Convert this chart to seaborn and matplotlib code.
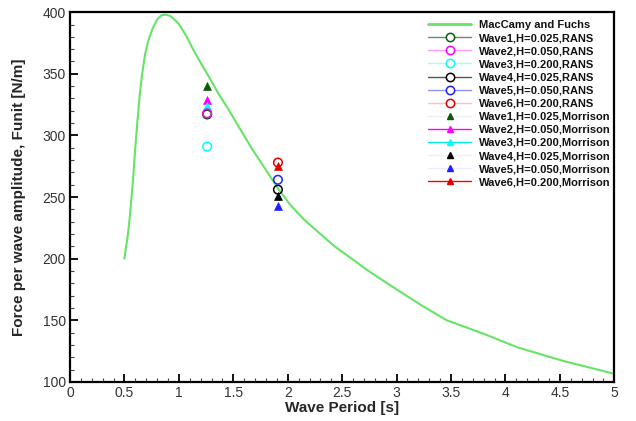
import matplotlib
matplotlib.use("Agg")
import matplotlib.pyplot as plt
from matplotlib.lines import Line2D
from matplotlib.ticker import MultipleLocator
import seaborn as sns

sns.set_theme(style="white")
plt.rcParams["font.family"] = ["Liberation Sans", "DejaVu Sans"]

# MacCamy and Fuchs analytical curve
theory_period = [0.5, 0.53, 0.55, 0.58, 0.6, 0.62, 0.64, 0.66, 0.69, 0.72, 0.76,
                 0.8, 0.84, 0.88, 0.92, 0.96, 1.0, 1.07, 1.13, 1.2, 1.28, 1.37,
                 1.45, 1.55, 1.68, 1.8, 1.91, 2.02, 2.14, 2.3, 2.43, 2.54, 2.75,
                 3.0, 3.23, 3.46, 3.8, 4.11, 4.53, 5.0]
theory_force = [200, 218, 234, 265, 290, 312, 332, 348, 366, 377, 387,
                394, 397.5, 398, 397, 394, 390.5, 380.5, 370, 359, 347, 333,
                322, 307, 288, 272, 257, 244, 232.5, 220, 210, 203, 189.5,
                175, 162, 150, 139, 128, 117, 106.5]

# Simulated cases
wave_names = ["Wave1,H=0.025", "Wave2,H=0.050", "Wave3,H=0.200",
              "Wave4,H=0.025", "Wave5,H=0.050", "Wave6,H=0.200"]
wave_period = [1.26, 1.26, 1.26, 1.91, 1.91, 1.91]
rans_force = [317, 318, 291, 256, 264, 278]
morrison_force = [340, 329, 324, 251, 243, 275]

# Style per wave: marker colour, RANS legend line colour, Morrison legend line colour
marker_colors = ["#0a5a0a", "#ff00ff", "#00ffff", "#000000", "#2020ff", "#e00000"]
rans_line_colors = ["#6a8a6a", "#ff9aff", "#a0ffff", "#555555", "#9090ff", "#ffc0c0"]
morr_line_colors = ["#eeeeee", "#ff00ff", "#00e8e8", "#f0f0f0", "#ececff", "#ff0000"]

fig, ax = plt.subplots(figsize=(6.36, 4.21), dpi=100)
fig.subplots_adjust(left=0.110, right=0.966, bottom=0.093, top=0.971)

green = "#66e466"
sns.lineplot(x=theory_period, y=theory_force, ax=ax, color=green, lw=1.5,
             sort=False, estimator=None)

for i in range(6):
    sns.scatterplot(x=[wave_period[i]], y=[morrison_force[i]], ax=ax,
                    marker="^", s=32, color=marker_colors[i],
                    edgecolor=marker_colors[i], linewidth=0.5, zorder=3)
    sns.scatterplot(x=[wave_period[i]], y=[rans_force[i]], ax=ax,
                    marker="o", s=38, facecolor="none",
                    edgecolor=marker_colors[i], linewidth=1.1, zorder=4)

ax.set_xlim(0, 5)
ax.set_ylim(100, 400)
ax.xaxis.set_minor_locator(MultipleLocator(0.1))
ax.yaxis.set_major_locator(MultipleLocator(50))
ax.yaxis.set_minor_locator(MultipleLocator(10))
ax.set_xticks([0, 0.5, 1, 1.5, 2, 2.5, 3, 3.5, 4, 4.5, 5])
ax.set_xticklabels(["0", "0.5", "1", "1.5", "2", "2.5", "3", "3.5", "4", "4.5", "5"])
ax.tick_params(which="major", direction="in", length=6, width=1.3,
               color="black", labelsize=10, labelcolor="#333333", pad=3,
               bottom=True, left=True, top=False, right=False)
ax.tick_params(which="minor", direction="in", length=3, width=0.8,
               color="#444444", bottom=True, left=True, top=False, right=False)

for sp in ax.spines.values():
    sp.set_color("black")
    sp.set_linewidth(1.6)

ax.set_xlabel("Wave Period [s]", fontsize=11, fontweight="bold", labelpad=1)
ax.set_ylabel("Force per wave amplitude, Funit [N/m]", fontsize=11,
              fontweight="bold", labelpad=12)

handles = [Line2D([], [], color=green, lw=2)]
labels = ["MacCamy and Fuchs"]
for i in range(6):
    handles.append(Line2D([], [], color=rans_line_colors[i], lw=1, marker="o",
                          markersize=6, markerfacecolor="white",
                          markeredgecolor=marker_colors[i], markeredgewidth=1.1))
    labels.append(f"{wave_names[i]},RANS")
for i in range(6):
    handles.append(Line2D([], [], color=morr_line_colors[i], lw=1, marker="^",
                          markersize=5, markerfacecolor=marker_colors[i],
                          markeredgecolor=marker_colors[i]))
    labels.append(f"{wave_names[i]},Morrison")

leg = ax.legend(handles, labels, loc="upper right", bbox_to_anchor=(1.006, 0.997),
                frameon=False, fontsize=8, handlelength=3.9, handletextpad=0.7,
                labelspacing=0.28, borderaxespad=0.2)
for t in leg.get_texts():
    t.set_fontweight("bold")
    t.set_color("#111111")

fig.savefig("out.png", dpi=100)
